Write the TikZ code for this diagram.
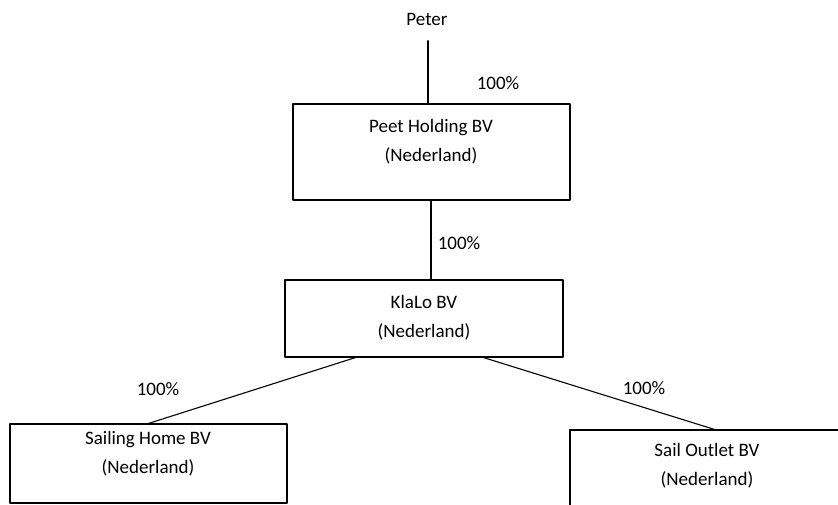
\documentclass[tikz,border=0pt]{standalone}
\usepackage{fontspec}
\setmainfont{Carlito}
\usetikzlibrary{positioning}

\begin{document}
\begin{tikzpicture}[x=1pt, y=-1pt, line cap=round, line join=round,
  firm/.style={draw=black, line width=1.1pt, rectangle, inner sep=0pt},
  firmtext/.style={align=center, font=\fontsize{19}{29}\selectfont},
  pct/.style={font=\fontsize{19}{23}\selectfont},
  link/.style={draw=black, line width=1.1pt}]
\useasboundingbox (0,0) rectangle (838,504);
\begin{scope}
\clip (0,0) rectangle (838,504);
% owner
\node [pct] (peter) at (427,19) {Peter};
% boxes
\node [firm, minimum width=277pt, minimum height=96pt] (peet) at (431.5,152) {};
\node [firm, minimum width=278pt, minimum height=77pt] (klalo) at (424,318.5) {};
\node [firm, minimum width=277pt, minimum height=79pt] (sailing) at (148.5,463.5) {};
\node [firm, minimum width=277pt, minimum height=79pt] (sailout) at (708.5,469.5) {};
% box texts
\node [firmtext] (peettxt) at (431,142) {Peet Holding BV\\(Nederland)};
\node [firmtext] (klalotxt) at (424,317.5) {KlaLo BV\\(Nederland)};
\node [firmtext] (sailingtxt) at (148,454) {Sailing Home BV\\(Nederland)};
\node [firmtext] (sailouttxt) at (707,466) {Sail Outlet BV\\(Nederland)};
% shares
\node [pct] (p1) at (498,83) {100\%};
\node [pct] (p2) at (459,243) {100\%};
\node [pct] (p3) at (158,389) {100\%};
\node [pct] (p4) at (644,388) {100\%};
% connectors
\draw [link] ([xshift=1pt, yshift=-12pt]peter.south) -- ([xshift=1pt]peter.south |- peet.north);
\draw [link] ([xshift=-0.5pt]peet.south) -- ([xshift=-0.5pt]peet.south |- klalo.north);
\draw [link] ([xshift=71pt]klalo.south west) -- (sailing.north);
\draw [link] ([xshift=-80pt]klalo.south east) -- ([xshift=6pt]sailout.north);
\end{scope}
\end{tikzpicture}
\end{document}
